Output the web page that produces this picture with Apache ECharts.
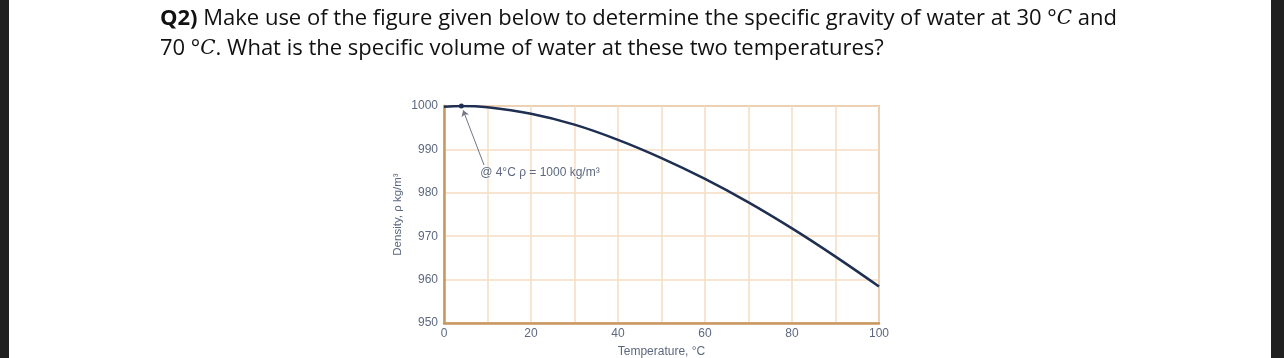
<!DOCTYPE html>
<html>
<head>
<meta charset="utf-8">
<script src="https://cdn.jsdelivr.net/npm/echarts@6/dist/echarts.min.js"></script>
<style>
  html,body{margin:0;padding:0;background:#fff;}
  #wrap{position:relative;width:1284px;height:358px;overflow:hidden;background:#fff;}
  #chart{position:absolute;left:0;top:0;width:1284px;height:358px;}
  .strip{position:absolute;top:0;height:358px;background:#202020;}
</style>
</head>
<body>
<div id="wrap">
  <div id="chart"></div>
  <div class="strip" style="left:0;width:9px;"></div>
  <div class="strip" style="left:1271px;width:13px;"></div>
</div>
<script>
// Data
const temperatures = [0, 4, 10, 20, 30, 40, 50, 60, 70, 80, 90, 100];
const densities = [999.8, 1000.0, 999.7, 998.2, 995.7, 992.2, 988.0, 983.2, 977.8, 971.8, 965.3, 958.4];
const maxPoint = [4, 1000];
const annotationText = '@ 4°C ρ = 1000 kg/m³';
const annotationAnchor = [8.2, 984.6];
const arrowFrom = [9.2, 986.4];
const arrowTo = [4.4, 999.0];
const xTickLabels = ['0', '20', '40', '60', '80', '100'];
const yTickLabels = ['950', '960', '970', '980', '990', '1000'];

const labelColor = '#5d6880';
const gridColor = '#f4dcc2';
const borderColor = '#c8975f';
const lineColor = '#1e2f52';
const chartFont = 'Liberation Sans';

const chart = echarts.init(document.getElementById('chart'), null, {renderer: 'canvas'});
chart.setOption({
  animation: false,
  backgroundColor: '#fff',
  title: {
    left: 160,
    top: 4,
    padding: 0,
    text: '{b|Q2)} Make use of the figure given below to determine the specific gravity of water at 30 °{i|C} and\n70 °{i|C}. What is the specific volume of water at these two temperatures?',
    textStyle: {
      fontFamily: 'Open Sans',
      fontSize: 22,
      fontWeight: 'normal',
      color: '#111',
      lineHeight: 30,
      rich: {
        b: {fontFamily: 'Open Sans', fontSize: 22, fontWeight: 'bold', color: '#111', lineHeight: 30},
        i: {fontFamily: 'DejaVu Serif', fontSize: 20, fontStyle: 'italic', color: '#111', lineHeight: 30}
      }
    }
  },
  grid: {
    left: 444, right: 405, top: 106, bottom: 35,
    outerBoundsMode: 'none',
    containLabel: false,
    show: true, borderColor: borderColor, borderWidth: 1.5, backgroundColor: 'transparent'
  },
  xAxis: {
    type: 'value', min: 0, max: 100, interval: 10,
    name: 'Temperature, °C', nameLocation: 'middle', nameGap: 23,
    nameTextStyle: {fontFamily: chartFont, fontSize: 12, color: labelColor},
    axisLine: {show: true, lineStyle: {color: borderColor, width: 2.5}},
    axisTick: {show: false},
    splitLine: {show: true, lineStyle: {color: gridColor, width: 1.5}},
    axisLabel: {
      fontFamily: chartFont, fontSize: 12, color: labelColor, margin: 5,
      formatter: v => xTickLabels.indexOf(String(v)) >= 0 ? String(v) : ''
    }
  },
  yAxis: {
    type: 'value', min: 950, max: 1000, interval: 10,
    name: 'Density, ρ kg/m³', nameLocation: 'middle', nameGap: 40,
    nameTextStyle: {fontFamily: chartFont, fontSize: 11.5, color: labelColor},
    axisLine: {show: true, lineStyle: {color: borderColor, width: 2.5}},
    axisTick: {show: false},
    splitLine: {show: true, lineStyle: {color: gridColor, width: 1.5}},
    axisLabel: {
      fontFamily: chartFont, fontSize: 12, color: labelColor, margin: 6,
      formatter: v => yTickLabels.indexOf(String(v)) >= 0 ? String(v) : ''
    }
  },
  series: [{
    type: 'line',
    data: temperatures.map((t, i) => [t, densities[i]]),
    smooth: 0.4,
    showSymbol: false,
    lineStyle: {color: lineColor, width: 2.5},
    itemStyle: {color: lineColor},
    markPoint: {
      silent: true,
      data: [
        {coord: maxPoint, symbol: 'circle', symbolSize: 5, itemStyle: {color: lineColor}, label: {show: false}},
        {coord: annotationAnchor, symbol: 'circle', symbolSize: 1, itemStyle: {color: 'rgba(0,0,0,0)'},
         label: {show: true, position: 'right', distance: 0, formatter: annotationText,
                 fontFamily: chartFont, fontSize: 12, color: labelColor}}
      ]
    },
    markLine: {
      silent: true,
      symbol: ['none', 'arrow'],
      symbolSize: 6,
      label: {show: false},
      lineStyle: {color: '#6f7684', width: 1, type: 'solid'},
      data: [[{coord: arrowFrom}, {coord: arrowTo}]]
    }
  }]
});
</script>
</body>
</html>
